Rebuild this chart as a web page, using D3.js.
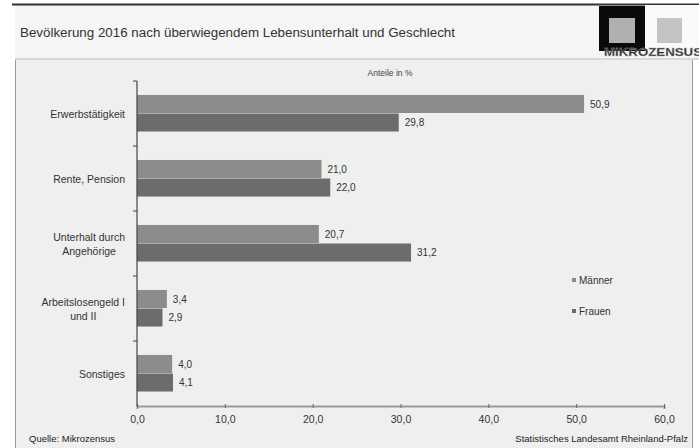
<!DOCTYPE html>
<html><head><meta charset="utf-8">
<script src="https://cdn.jsdelivr.net/npm/d3@7"></script>
<style>body{margin:0;background:#fff}svg{display:block;font-family:"Liberation Sans",Arial,sans-serif}</style>
</head><body><svg id="c" width="699" height="448"></svg>
<script>
const categories = [["Erwerbstätigkeit"],["Rente, Pension"],["Unterhalt durch","Angehörige"],["Arbeitslosengeld I","und II"],["Sonstiges"]];
const series = ["Männer","Frauen"];
const maenner = [50.9,21.0,20.7,3.4,4.0];
const frauen = [29.8,22.0,31.2,2.9,4.1];
const xTicks = [0,10,20,30,40,50,60];
const colors = ["#8c8c8c","#6c6c6c"];

const svg = d3.select("#c");
svg.append("rect").attr("x",0).attr("y",0).attr("width",699).attr("height",448).attr("fill","#ffffff");
svg.append("rect").attr("x",15).attr("y",5).attr("width",684).attr("height",53).attr("fill","#f5f5f5");
svg.append("rect").attr("x",15).attr("y",60).attr("width",677).attr("height",388).attr("fill","#efefef");
svg.append("line").attr("x1",12).attr("x2",699).attr("y1",4.5).attr("y2",4.5).attr("stroke","#333").attr("stroke-width",2);
svg.append("line").attr("x1",15).attr("x2",699).attr("y1",59).attr("y2",59).attr("stroke","#d8d8d8").attr("stroke-width",2);
svg.append("line").attr("x1",15.5).attr("x2",15.5).attr("y1",60).attr("y2",448).attr("stroke","#999");
svg.append("line").attr("x1",692.5).attr("x2",692.5).attr("y1",60).attr("y2",448).attr("stroke","#999");

svg.append("text").attr("x",20).attr("y",37).attr("font-size",12.5).attr("fill","#333").attr("textLength",435).attr("lengthAdjust","spacingAndGlyphs").text("Bevölkerung 2016 nach überwiegendem Lebensunterhalt und Geschlecht");
// logo
svg.append("rect").attr("x",645).attr("y",5).attr("width",54).attr("height",52).attr("fill","#fafafa");
svg.append("rect").attr("x",599).attr("y",6).attr("width",46).attr("height",45).attr("fill","#0a0a0a");
svg.append("rect").attr("x",609).attr("y",18).attr("width",26).attr("height",25).attr("fill","#b0b0b0");
svg.append("rect").attr("x",657).attr("y",18).attr("width",25).attr("height",25).attr("fill","#c4c4c4");
svg.append("text").attr("x",604).attr("y",56).attr("font-size",10.5).attr("font-weight","bold").attr("fill","#2a2a2a").attr("stroke","#aaa").attr("stroke-width",0.3).attr("textLength",98).attr("lengthAdjust","spacingAndGlyphs").text("MIKROZENSUS");

const x = d3.scaleLinear().domain([0,60]).range([137,664]);
const y = d3.scaleBand().domain(d3.range(categories.length)).range([81,406]).paddingInner(0.43).paddingOuter(0.215);
const sub = d3.scaleBand().domain(series).range([0,y.bandwidth()]);

svg.append("text").attr("x",390).attr("y",76).attr("font-size",8.5).attr("fill","#444").attr("text-anchor","middle").text("Anteile in %");

const fmt = v => d3.format(".1f")(v).replace(".",",");
const data = [maenner,frauen];
series.forEach((s,si)=>{
  const g = svg.append("g");
  data[si].forEach((v,i)=>{
    g.append("rect").attr("x",x(0)).attr("y",y(i)+sub(s)).attr("width",x(v)-x(0)).attr("height",sub.bandwidth()-0.5).attr("fill",colors[si]);
    g.append("text").attr("x",x(v)+6).attr("y",y(i)+sub(s)+sub.bandwidth()/2+3.5).attr("font-size",10).attr("fill","#333").text(fmt(v));
  });
});

const xa = svg.append("g").attr("transform","translate(0,406)")
  .call(d3.axisBottom(x).tickValues(xTicks).tickSize(3).tickFormat(fmt));
xa.select(".domain").attr("stroke","#999").attr("stroke-width",2);
xa.selectAll(".tick line").attr("stroke","#666").attr("y1",-2).attr("y2",2);
xa.selectAll("text").attr("font-size",10.5).attr("fill","#333").attr("dy","1.05em").attr("font-family","Liberation Sans, Arial, sans-serif");

const step = y.step();
svg.append("line").attr("x1",137).attr("x2",137).attr("y1",81).attr("y2",406).attr("stroke","#444").attr("stroke-width",1.2);
d3.range(categories.length).forEach(i=>{
  const yy = y(i) - (step - y.bandwidth())/2;
  svg.append("line").attr("x1",133).attr("x2",137).attr("y1",yy).attr("y2",yy).attr("stroke","#444");
});

categories.forEach((lines,i)=>{
  const cy = y(i)+y.bandwidth()/2;
  const t = svg.append("text").attr("font-size",10.5).attr("fill","#333").attr("text-anchor","middle");
  const n = lines.length;
  lines.forEach((l,k)=>{
    t.append("tspan").attr("y",cy + 4 + (k-(n-1)/2)*14).text(l);
  });
  let maxW = 0;
  t.selectAll("tspan").each(function(){maxW=Math.max(maxW,this.getComputedTextLength());});
  t.selectAll("tspan").attr("x",125-maxW/2);
});

series.forEach((s,si)=>{
  const ly = 284 + si*31;
  svg.append("rect").attr("x",572).attr("y",ly-6).attr("width",4).attr("height",4).attr("fill",colors[si]);
  svg.append("text").attr("x",579).attr("y",ly).attr("font-size",10).attr("fill","#333").text(s);
});

svg.append("text").attr("x",29).attr("y",442).attr("font-size",9.5).attr("fill","#222").text("Quelle: Mikrozensus");
svg.append("text").attr("x",688).attr("y",442).attr("font-size",9.5).attr("fill","#222").attr("text-anchor","end").text("Statistisches Landesamt Rheinland-Pfalz");
</script></body></html>
